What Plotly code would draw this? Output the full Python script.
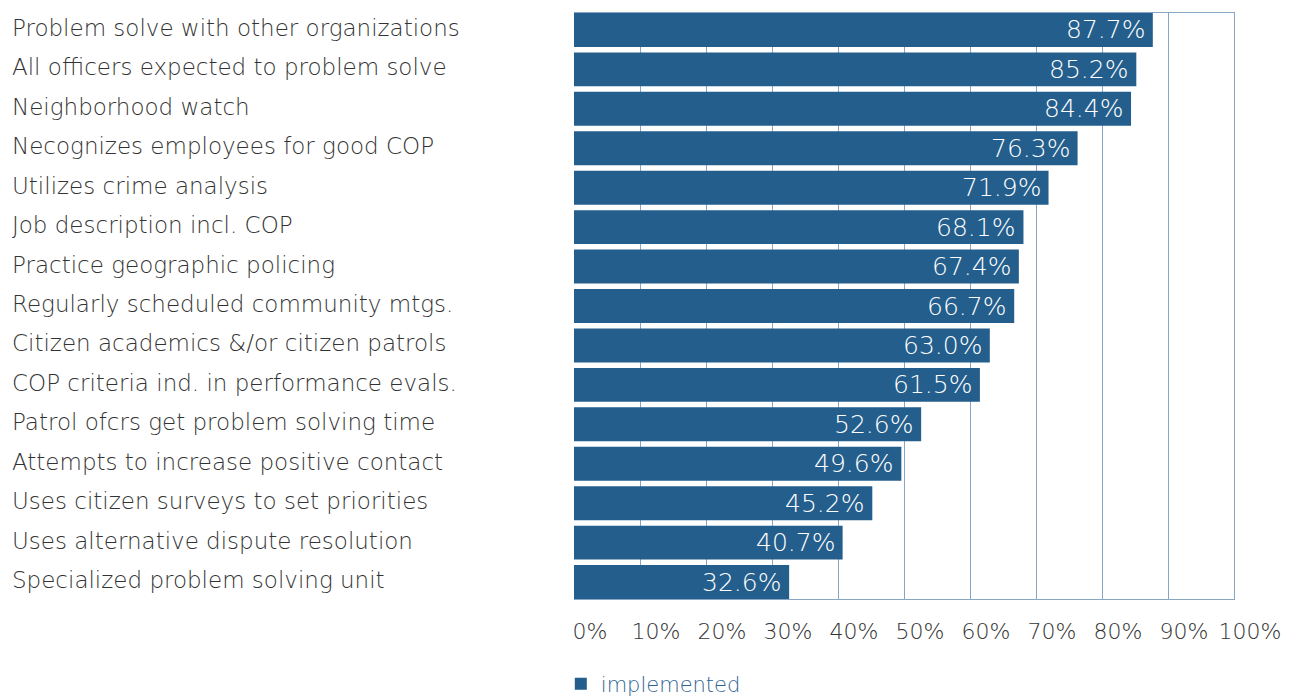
import plotly.graph_objects as go

# Share of agencies reporting each community-oriented policing practice
practices = [
    "Problem solve with other organizations",
    "All officers expected to problem solve",
    "Neighborhood watch",
    "Necognizes employees for good COP",
    "Utilizes crime analysis",
    "Job description incl. COP",
    "Practice geographic policing",
    "Regularly scheduled community mtgs.",
    "Citizen academics &/or citizen patrols",
    "COP criteria ind. in performance evals.",
    "Patrol ofcrs get problem solving time",
    "Attempts to increase positive contact",
    "Uses citizen surveys to set priorities",
    "Uses alternative dispute resolution",
    "Specialized problem solving unit",
]
implemented = [87.7, 85.2, 84.4, 76.3, 71.9, 68.1, 67.4, 66.7, 63.0, 61.5,
               52.6, 49.6, 45.2, 40.7, 32.6]
x_ticks = [0, 10, 20, 30, 40, 50, 60, 70, 80, 90, 100]
x_tick_text = [f"{t}%" for t in x_ticks]

BAR = "#245e8c"
LINE = "#86a6c4"
FONT = "DejaVu Sans"

fig = go.Figure()
fig.add_trace(go.Bar(
    x=implemented,
    y=practices,
    orientation="h",
    name="implemented",
    marker=dict(color=BAR, line=dict(width=0)),
    hoverinfo="skip",
))

# value labels at the inner end of each bar
for p, v in zip(practices, implemented):
    fig.add_annotation(
        x=v, y=p, xref="x", yref="y",
        text=f"{v:.1f}%", showarrow=False,
        xanchor="right", xshift=-6,
        font=dict(family=FONT, size=25, color="white", weight=200),
    )

# category labels, left aligned
for p in practices:
    fig.add_annotation(
        x=-564 / 660, y=p, xref="paper", yref="y",
        text=p, showarrow=False, xanchor="left", yshift=2,
        font=dict(family=FONT, size=23, color="#333333", weight=200),
    )

fig.update_layout(
    width=1303, height=696,
    margin=dict(l=574, r=69, t=13, b=97, autoexpand=False),
    paper_bgcolor="white", plot_bgcolor="white",
    bargap=0.14,
    showlegend=True,
    legend=dict(
        orientation="h", x=-0.02, xanchor="left",
        yref="container", y=12 / 696, yanchor="middle",
        font=dict(family=FONT, size=21, color="#2f6391", weight=200),
        bgcolor="rgba(0,0,0,0)",
    ),
    xaxis=dict(
        range=[0, 100], tickvals=x_ticks, ticktext=x_tick_text,
        showgrid=True, gridcolor=LINE, gridwidth=1,
        zeroline=False, showline=True, linecolor=LINE, linewidth=1,
        mirror=True, ticks="", ticklabelstandoff=13, ticklabelshift=16,
        tickfont=dict(family=FONT, size=22, color="#333333", weight=200),
        automargin=False, fixedrange=True,
    ),
    yaxis=dict(
        categoryorder="array", categoryarray=practices,
        range=[len(practices) - 1 + 0.43, -0.43],
        side="right", showticklabels=False, ticks="",
        showgrid=False, zeroline=False,
        showline=True, linecolor=LINE, linewidth=1, mirror=False,
        automargin=False, fixedrange=True,
    ),
)

fig.write_html("out.html")
